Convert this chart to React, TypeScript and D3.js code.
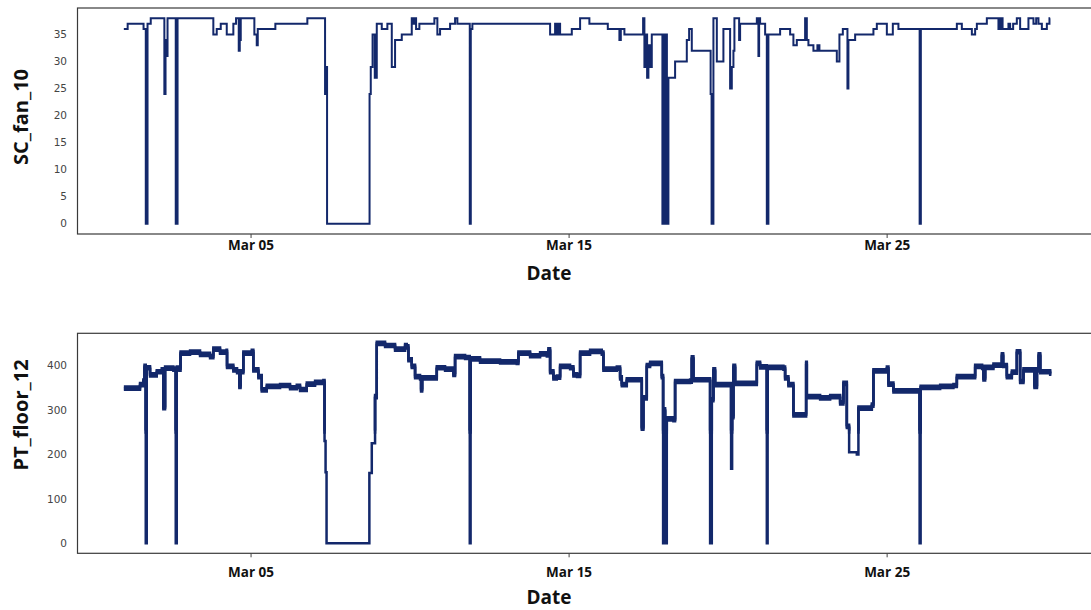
import * as d3 from 'd3'

// days since Mar 01 00:00 and the reading at that moment
const fanDays = [
  0, 0.12, 0.62, 0.69, 0.745, 0.846, 1.274, 1.311, 1.336, 1.374, 1.632, 1.689,
  2.814, 2.921, 3.047, 3.236, 3.443, 3.528, 3.613, 3.645, 3.676, 4.104, 4.179,
  4.211, 4.764, 5.77, 6.327, 6.358, 6.39, 7.726, 7.764, 7.821, 7.89, 7.953,
  8.11, 8.286, 8.425, 8.528, 8.739, 9.053, 9.094, 9.142, 9.189, 9.292, 9.764,
  9.858, 9.943, 10.258, 10.415, 10.487, 10.877, 10.909, 10.959, 13.403, 13.56,
  13.613, 13.664, 13.717, 14.085, 14.346, 14.638, 15.217, 15.582, 15.626,
  15.739, 16.327, 16.368, 16.412, 16.453, 16.494, 16.547, 16.6, 16.934, 16.972,
  17.003, 17.044, 17.075, 17.123, 17.333, 17.701, 17.774, 17.858, 18.45, 18.48,
  18.538, 18.645, 18.852, 19.063, 19.116, 19.167, 19.198, 19.346, 19.377,
  19.903, 19.953, 19.975, 20.006, 20.164, 20.217, 20.267, 20.635, 20.95,
  21.053, 21.16, 21.421, 21.475, 21.525, 21.682, 21.808, 21.871, 22.418, 22.5,
  22.607, 22.752, 22.783, 22.994, 23.569, 23.676, 23.991, 24.179, 24.355,
  25.022, 25.06, 26.192, 26.349, 26.664, 26.767, 26.821, 27.135, 27.5, 27.531,
  27.563, 27.6, 27.63, 27.814, 27.868, 27.962, 28.078, 28.182, 28.443, 28.601,
  28.686, 28.758, 28.865, 29.022, 29.104, 29.126,
]
const fanValues = [
  36, 37, 36, 0, 37, 38, 24, 34, 31, 38, 0, 38,
  35, 36, 37, 35, 37, 38, 32, 34, 38, 35, 33,
  36, 37, 38, 24, 29, 0, 24, 29, 35, 27, 37,
  36, 37, 29, 34, 35, 38, 37, 38, 36, 37, 38,
  35, 36, 37, 38, 37, 0, 36, 37, 35, 37,
  35, 37, 35, 36, 38, 37, 36, 34, 36,
  35, 38, 29, 35, 27, 33, 29, 35, 0, 35,
  0, 35, 0, 27, 30, 34, 36, 32, 24, 0,
  38, 30, 36, 25, 29, 32, 38, 34, 37,
  38, 31, 38, 37, 35, 0, 35, 36, 35,
  33, 34, 38, 34, 33, 32, 33, 32, 30, 35,
  36, 25, 34, 35, 36, 37, 35, 37, 36,
  0, 36, 37, 36, 35, 36, 37, 38, 36, 38,
  36, 38, 36, 37, 36, 37, 38, 36, 38, 37,
  38, 37, 36, 37, 38, 38,
]

const floorDays = [
  0, 0.509, 0.613, 0.65, 0.689, 0.72, 0.824, 1.035, 1.192, 1.242, 1.296, 1.557,
  1.632, 1.664, 1.745, 1.783, 2.082, 2.396, 2.711, 2.814, 3.025, 3.23, 3.245,
  3.443, 3.56, 3.632, 3.67, 3.758, 4.022, 4.072, 4.23, 4.336, 4.494, 4.912,
  5.226, 5.437, 5.541, 5.752, 6.013, 6.274, 6.311, 6.343, 6.374, 7.689, 7.72,
  7.796, 7.899, 7.953, 8.214, 8.528, 8.843, 8.896, 8.947, 9.053, 9.157, 9.314,
  9.346, 9.38, 9.629, 9.84, 10.1, 10.362, 10.415, 10.73, 10.877, 10.903, 11.2,
  11.83, 12.355, 12.406, 12.774, 13.088, 13.3, 13.349, 13.403, 13.506, 13.613,
  13.717, 14.031, 14.135, 14.25, 14.346, 14.66, 15.028, 15.079, 15.5, 15.604,
  15.657, 15.814, 16.233, 16.286, 16.336, 16.443, 16.547, 16.862, 16.915,
  16.956, 16.987, 17.019, 17.072, 17.28, 17.333, 17.805, 17.858, 17.909,
  18.381, 18.434, 18.487, 18.538, 18.591, 19.063, 19.094, 19.126, 19.167,
  19.22, 19.849, 19.903, 20.006, 20.217, 20.242, 20.74, 20.792, 20.896,
  21.053, 21.421, 21.453, 21.475, 21.893, 22.208, 22.522, 22.626, 22.733,
  22.805, 23.047, 23.097, 23.519, 23.569, 23.991, 24.041, 24.198, 24.934,
  25.022, 25.053, 25.667, 26.085, 26.192, 26.714, 26.767, 26.987, 27.028,
  27.082, 27.343, 27.553, 27.607, 27.648, 27.764, 27.921, 28.079, 28.182,
  28.286, 28.607, 28.632, 28.711, 28.764, 28.814, 29.126,
]
const floorValues = [
  349, 357, 365, 398, 0, 395, 379, 386, 390, 305, 394, 392,
  0, 394, 392, 428, 430, 425, 420, 437, 430, 432, 398,
  390, 386, 353, 386, 428, 432, 390, 375, 345, 353, 355,
  350, 353, 346, 358, 362, 364, 230, 160, 0, 0, 158,
  225, 330, 450, 445, 437, 445, 442, 413, 398, 375, 372,
  345, 372, 372, 395, 392, 380, 420, 418, 0, 415, 410,
  408, 407, 428, 422, 426, 424, 435, 386, 372, 374,
  398, 395, 379, 378, 428, 432, 428, 392, 394, 372,
  357, 368, 368, 259, 327, 400, 405, 405, 375,
  0, 300, 0, 280, 278, 364, 365, 417, 368,
  368, 0, 323, 390, 357, 357, 168, 285, 398,
  360, 360, 405, 397, 0, 396, 394, 372, 357,
  289, 289, 405, 330, 327, 330, 316, 360, 263,
  205, 200, 304, 311, 388, 394, 358, 343, 343,
  0, 351, 353, 355, 375, 375, 398, 396, 370,
  396, 401, 401, 424, 400, 375, 385, 431, 364,
  390, 390, 353, 390, 424, 386, 380,
]

const fanTicks = [0, 5, 10, 15, 20, 25, 30, 35]
const floorTicks = [0, 100, 200, 300, 400]
const dateTickDays = [4, 14, 24]

const START = new Date(2021, 2, 1)
const DAY = 864e5
const toDate = (d: number) => new Date(START.getTime() + d * DAY)

const LINE = '#13286b'
const W = 1091
const H = 610

const x = d3
  .scaleTime()
  .domain([toDate(-1.457), toDate(30.583)])
  .range([77.5, 1096.5])
const fmt = d3.timeFormat('%b %d')

interface PanelProps {
  id: string
  days: number[]
  values: number[]
  yDomain: [number, number]
  top: number
  bottom: number
  ticks: number[]
  title: string
  titleY: number
  tickLabelY: number
  dateLabelY: number
  lineWidth: number
  offsets: number[] // vertical copies to fake the noisy band
  bandFloor: number // offset copies only drawn above this value
}

const Panel: React.FC<PanelProps> = (p) => {
  const y = d3.scaleLinear().domain(p.yDomain).range([p.bottom, p.top])
  const pts = p.days.map((d, i) => ({ t: toDate(d), v: p.values[i] }))
  const line = d3
    .line<{ t: Date; v: number }>()
    .x((d) => x(d.t))
    .y((d) => y(d.v))
    .curve(d3.curveStepAfter)
  const pathD = line(pts) || undefined
  const left = x.range()[0]
  const right = x.range()[1]
  const clipY = y(p.bandFloor)
  return (
    <g>
      <defs>
        <clipPath id={`band-${p.id}`}>
          <rect x={0} y={p.top - 10} width={W} height={clipY - p.top + 10} />
        </clipPath>
      </defs>
      <rect
        x={left}
        y={p.top}
        width={right - left}
        height={p.bottom - p.top}
        fill="none"
        stroke="#3a3a3a"
        strokeWidth={1.2}
      />
      {p.ticks.map((t) => (
        <text
          key={t}
          x={67}
          y={y(t)}
          dy="0.35em"
          textAnchor="end"
          fontFamily="DejaVu Sans"
          fontSize={10.5}
          fill="#444"
        >
          {t}
        </text>
      ))}
      {dateTickDays.map((d) => (
        <g key={d}>
          <line
            x1={x(toDate(d))}
            x2={x(toDate(d))}
            y1={p.bottom}
            y2={p.bottom + 4}
            stroke="#444"
            strokeWidth={1}
          />
          <text
            x={x(toDate(d))}
            y={p.tickLabelY}
            textAnchor="middle"
            fontFamily="Open Sans"
            fontWeight="bold"
            fontSize={13.5}
            fill="#111"
          >
            {fmt(toDate(d))}
          </text>
        </g>
      ))}
      <path d={pathD} fill="none" stroke={LINE} strokeWidth={p.lineWidth} />
      {p.offsets.map((off, i) => (
        <path
          key={i}
          d={pathD}
          transform={`translate(0,${off})`}
          clipPath={`url(#band-${p.id})`}
          fill="none"
          stroke={LINE}
          strokeWidth={p.lineWidth}
        />
      ))}
      <text
        x={549}
        y={p.dateLabelY}
        textAnchor="middle"
        fontFamily="Open Sans"
        fontWeight="bold"
        fontSize={19}
        fill="#111"
      >
        Date
      </text>
      <text
        transform={`translate(28,${p.titleY}) rotate(-90)`}
        textAnchor="middle"
        fontFamily="Open Sans"
        fontWeight="bold"
        fontSize={20}
        fill="#111"
      >
        {p.title}
      </text>
    </g>
  )
}

export default function App() {
  return (
    <svg
      width={W}
      height={H}
      style={{ position: 'absolute', left: 0, top: 0, background: '#fff' }}
    >
      <Panel
        id="fan"
        days={fanDays}
        values={fanValues}
        yDomain={[-1.9, 39.9]}
        top={8}
        bottom={234}
        ticks={fanTicks}
        title="SC_fan_10"
        titleY={117}
        tickLabelY={250}
        dateLabelY={280}
        lineWidth={2}
        offsets={[]}
        bandFloor={0}
      />
      <Panel
        id="floor"
        days={floorDays}
        values={floorValues}
        yDomain={[-22.5, 472.5]}
        top={333.3}
        bottom={553.3}
        ticks={floorTicks}
        title="PT_floor_12"
        titleY={415}
        tickLabelY={577}
        dateLabelY={604}
        lineWidth={2.5}
        offsets={[-1.6, 1.6]}
        bandFloor={250}
      />
    </svg>
  )
}
